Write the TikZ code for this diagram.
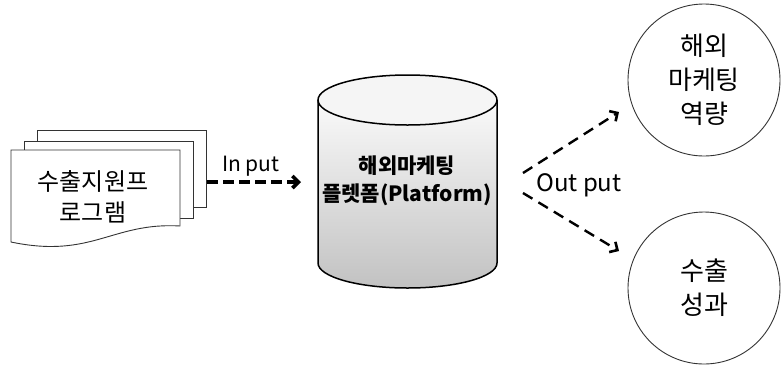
\documentclass[tikz,border=0pt]{standalone}
\usepackage{fontspec}
\setmainfont{Noto Sans CJK KR}
\usetikzlibrary{arrows.meta}
\tikzset{
  page/.style={draw=black!80, line width=0.9pt, fill=white},
  circ/.style={circle, draw=black!80, line width=0.9pt, minimum size=152pt, inner sep=0pt, align=center, font=\fontsize{26}{34}\selectfont},
  inarrow/.style={line width=3.6pt, dash pattern=on 11pt off 5pt, -{Straight Barb[length=6pt,width=12pt,line width=3.6pt]}},
  outarrow/.style={line width=2.4pt, dash pattern=on 11pt off 7pt, -{Straight Barb[length=6pt,width=12pt,line width=2.6pt]}},
  lbl/.style={inner sep=0pt}
}
\begin{document}
\begin{tikzpicture}[x=1pt,y=-1pt]
\useasboundingbox (0,0) rectangle (781,365);
% stacked pages
\draw[page] (37,130) rectangle (206,207);
\draw[page] (24,141) rectangle (193,218);
\draw[page] (11,150) -- (180,150) -- (180,226) .. controls (112,222) and (92,259) .. (11,242) -- cycle;
\node[lbl, align=center, font=\fontsize{24}{31}\selectfont] (doc) at (93,197) {수출지원프\\로그램};
% cylinder
\shade[top color=gray!4, bottom color=gray!48] (318,100) -- (318,263) arc[start angle=180, end angle=0, x radius=89.5, y radius=25] -- (497,100) -- cycle;
\draw[line width=1.5pt] (318,100) -- (318,263) arc[start angle=180, end angle=0, x radius=89.5, y radius=25] -- (497,100);
\draw[line width=1.5pt, fill=gray!8] (407.5,100) ellipse[x radius=89.5, y radius=25];
\node[lbl, align=center, font=\bfseries\fontsize{21}{28}\selectfont] (cyl) at (407,181) {해외마케팅\\플렛폼(Platform)};
% circles
\node[circ] (c1) at (704,80) {해외\\마케팅\\역량};
\node[circ] (c2) at (704,288) {수출\\성과};
% arrows
\coordinate (inS) at (207,182);
\coordinate (inE) at (301,182);
\draw[inarrow] (inS) -- (inE);
\node[lbl, font=\fontsize{21}{24}\selectfont, anchor=base west] (inlbl) at (222,171) {In put};
\coordinate (o1S) at (523,173);
\coordinate (o1E) at (619,112);
\coordinate (o2S) at (523,193);
\coordinate (o2E) at (619,251);
\draw[outarrow] (o1S) -- (o1E);
\draw[outarrow] (o2S) -- (o2E);
\node[lbl, font=\fontsize{24}{28}\selectfont, anchor=base west] (outlbl) at (536,191) {Out put};
\end{tikzpicture}
\end{document}
